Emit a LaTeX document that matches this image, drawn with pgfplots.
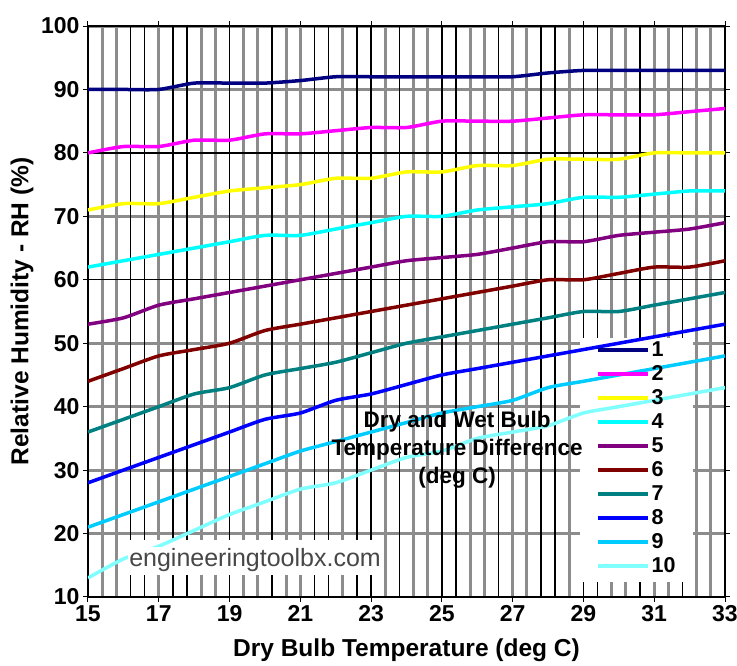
\documentclass[border=0pt]{standalone}
\usepackage{fontspec}
\setmainfont{Liberation Sans}
\usepackage{pgfplots}
\pgfplotsset{compat=1.18}
\definecolor{c1}{HTML}{000080}
\definecolor{c2}{HTML}{FF00FF}
\definecolor{c3}{HTML}{FFFF00}
\definecolor{c4}{HTML}{00FFFF}
\definecolor{c5}{HTML}{800080}
\definecolor{c6}{HTML}{800000}
\definecolor{c7}{HTML}{008080}
\definecolor{c8}{HTML}{0000FF}
\definecolor{c9}{HTML}{00CCFF}
\definecolor{c10}{HTML}{80FFFF}
\definecolor{gridgray}{HTML}{8C8C8C}
\begin{document}
\begin{tikzpicture}
\begin{axis}[
  at={(0,0)}, anchor=south west,
  scale only axis, width=637pt, height=571pt,
  xmin=15, xmax=33, ymin=10, ymax=100,
  xtick={15,17,...,33}, ytick={10,20,...,100},
  minor xtick={15.4,15.8,17.0,18.2,18.6,19.4,19.8,20.6,21.0,22.2,23.4,24.2,24.6,25.8,26.2,27.0,27.4,28.6,29.8,30.2,31.0,31.4,32.2,32.6},
  minor ytick={20,30,40,50,70,90,100},
  minor grid style={gridgray, line width=3pt},
  xminorgrids=true, yminorgrids=true,
  minor tick length=0pt,
  extra x ticks={16.2,16.6,17.4,17.8,19.0,20.2,21.4,21.8,22.6,23.0,23.8,25.0,25.4,26.6,27.8,28.2,29.0,29.4,30.6,31.8},
  extra x tick labels={},
  extra x tick style={grid=major, major grid style={black, line width=1.3pt}, major tick length=0pt},
  extra y ticks={60,80},
  extra y tick labels={},
  extra y tick style={grid=major, major grid style={black, line width=1.3pt}, major tick length=0pt},
  tick align=outside, major tick length=5pt,
  tick style={black, line width=1pt},
  axis line style={black, line width=1.2pt},
  ticklabel style={font=\fontsize{23}{27}\selectfont\bfseries},
  /pgf/number format/assume math mode=true,
  xlabel={Dry Bulb Temperature (deg C)},
  xlabel style={at={(axis description cs:0.5,-0.0928)}, anchor=center, font=\fontsize{24.5}{28}\selectfont\bfseries},
  ylabel={Relative Humidity - RH (\%)},
  ylabel style={at={(axis description cs:-0.1036,0.5)}, anchor=center, font=\fontsize{24.5}{28}\selectfont\bfseries},
  legend style={at={(0.7975,0.4536)}, anchor=north west, draw=none, fill=none, inner sep=0pt,
    font=\fontsize{21.5}{24}\selectfont\bfseries,
    nodes={inner sep=2pt, text height=16pt, text depth=4pt},
    cells={anchor=west}, row sep=0pt},
  legend image code/.code={\draw[#1] (0pt,0pt) -- (50pt,0pt);},
  every axis plot/.append style={line width=3.5pt, smooth, tension=0.4},
]
\fill[white] (axis cs:28.90,12.36) rectangle (axis cs:32.10,50.82);
\fill[white] (axis cs:15.90,13.46) rectangle (axis cs:23.36,18.98);

\addplot[c1] coordinates {(15,90)(16,90)(17,90)(18,91)(19,91)(20,91)(21,91.4)(22,92)(23,92)(24,92)(25,92)(26,92)(27,92)(28,92.6)(29,93)(30,93)(31,93)(32,93)(33,93)};
\addlegendentry{1}
\addplot[c2] coordinates {(15,80)(16,81)(17,81)(18,82)(19,82)(20,83)(21,83)(22,83.5)(23,84)(24,84)(25,85)(26,85)(27,85)(28,85.5)(29,86)(30,86)(31,86)(32,86.5)(33,87)};
\addlegendentry{2}
\addplot[c3] coordinates {(15,71)(16,72)(17,72)(18,73)(19,74)(20,74.5)(21,75)(22,76)(23,76)(24,77)(25,77)(26,78)(27,78)(28,79)(29,79)(30,79)(31,80)(32,80)(33,80)};
\addlegendentry{3}
\addplot[c4] coordinates {(15,62)(16,63)(17,64)(18,65)(19,66)(20,67)(21,67)(22,68)(23,69)(24,70)(25,70)(26,71)(27,71.5)(28,72)(29,73)(30,73)(31,73.5)(32,74)(33,74)};
\addlegendentry{4}
\addplot[c5] coordinates {(15,53)(16,54)(17,56)(18,57)(19,58)(20,59)(21,60)(22,61)(23,62)(24,63)(25,63.5)(26,64)(27,65)(28,66)(29,66)(30,67)(31,67.5)(32,68)(33,69)};
\addlegendentry{5}
\addplot[c6] coordinates {(15,44)(16,46)(17,48)(18,49)(19,50)(20,52)(21,53)(22,54)(23,55)(24,56)(25,57)(26,58)(27,59)(28,60)(29,60)(30,61)(31,62)(32,62)(33,63)};
\addlegendentry{6}
\addplot[c7] coordinates {(15,36)(16,38)(17,40)(18,42)(19,43)(20,45)(21,46)(22,47)(23,48.5)(24,50)(25,51)(26,52)(27,53)(28,54)(29,55)(30,55)(31,56)(32,57)(33,58)};
\addlegendentry{7}
\addplot[c8] coordinates {(15,28)(16,30)(17,32)(18,34)(19,36)(20,38)(21,39)(22,41)(23,42)(24,43.5)(25,45)(26,46)(27,47)(28,48)(29,49)(30,50)(31,51)(32,52)(33,53)};
\addlegendentry{8}
\addplot[c9] coordinates {(15,21)(16,23)(17,25)(18,27)(19,29)(20,31)(21,33)(22,34.5)(23,36)(24,37.5)(25,39)(26,40)(27,41)(28,43)(29,44)(30,45)(31,46)(32,47)(33,48)};
\addlegendentry{9}
\addplot[c10] coordinates {(15,13)(16,16)(17,18)(18,20.5)(19,23)(20,25)(21,27)(22,28)(23,30)(24,32)(25,33)(26,35)(27,36)(28,37)(29,39)(30,40)(31,41)(32,42)(33,43)};
\addlegendentry{10}

\node[fill=white, inner sep=1pt, font=\fontsize{25}{29}\selectfont, text=black!72] at (axis cs:19.72,15.84) {engineeringtoolbx.com};
\node[align=center, font=\fontsize{22.5}{28}\selectfont\bfseries] at (axis cs:25.43,33.17) {Dry and Wet Bulb\\Temperature Difference\\(deg C)};
\end{axis}
\pgfresetboundingbox
\path[use as bounding box] (-88pt,-69pt) rectangle (649pt,597pt);
\end{tikzpicture}
\end{document}
